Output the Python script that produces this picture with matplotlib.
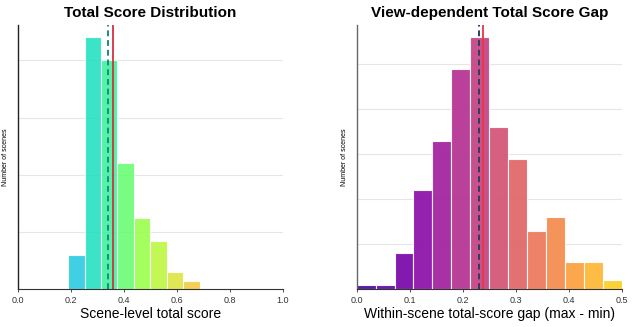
import numpy as np
import matplotlib.pyplot as plt

plt.rcParams['font.family'] = ['Liberation Sans', 'DejaVu Sans']

# Left panel: scene-level total score histogram
score_start = 0.19
score_width = 0.062
score_counts = [12, 88, 80, 44, 25, 17, 6, 3]
score_median = 0.339
score_mean = 0.359

# Right panel: within-scene total-score gap histogram
gap_start = 0.0
gap_width = 0.5 / 14
gap_counts = [1, 1, 8, 22, 33, 49, 56, 36, 29, 13, 16, 6, 6, 2]
gap_median = 0.231
gap_mean = 0.2385

fig = plt.figure(figsize=(6.34, 3.27), dpi=100)
ax1 = fig.add_axes([0.028, 0.115, 0.418, 0.809])
ax2 = fig.add_axes([0.5626, 0.115, 0.418, 0.809])


def style(ax, ymax, step, spine_col):
    ax.set_ylim(0, ymax)
    ax.set_yticks(np.arange(step, ymax, step))
    ax.set_yticklabels([])
    ax.tick_params(axis='y', length=0)
    ax.tick_params(axis='x', labelsize=6.5, length=2.5, width=0.6, pad=2,
                   colors='#333333')
    ax.grid(axis='y', color='#e6e6e6', linewidth=0.8)
    ax.set_axisbelow(True)
    for s in ['top', 'right']:
        ax.spines[s].set_visible(False)
    ax.spines['left'].set_color(spine_col)
    ax.spines['bottom'].set_color('#333333')
    ax.spines['left'].set_linewidth(1.0)
    ax.spines['bottom'].set_linewidth(0.8)
    ax.set_ylabel('Number of scenes', fontsize=5, labelpad=3)


# left
x1 = score_start + score_width * np.arange(len(score_counts))
c1 = plt.cm.turbo(np.linspace(0.27, 0.64, len(score_counts)))
ax1.bar(x1, score_counts, width=score_width, align='edge', color=c1,
        alpha=0.85, edgecolor='white', linewidth=0.8)
ax1.axvline(score_median, color='#1f8a80', linestyle='--', linewidth=1.4,
            dashes=(3, 2))
ax1.axvline(score_mean, color='#d63040', linewidth=1.3)
ax1.set_xlim(0, 1)
ax1.set_xticks(np.arange(0, 1.01, 0.2))
style(ax1, 92.4, 20, '#222222')
ax1.set_xlabel('Scene-level total score', fontsize=10, labelpad=2)
ax1.set_title('Total Score Distribution', fontsize=11, fontweight='bold', pad=6)

# right
x2 = gap_start + gap_width * np.arange(len(gap_counts))
c2 = plt.cm.plasma(np.linspace(0.1, 0.9, len(gap_counts)))
ax2.bar(x2, gap_counts, width=gap_width, align='edge', color=c2,
        alpha=0.9, edgecolor='white', linewidth=0.8)
ax2.axvline(gap_median, color='#2c3e60', linestyle='--', linewidth=1.4,
            dashes=(3, 2))
ax2.axvline(gap_mean, color='#e8364a', linewidth=1.3)
ax2.set_xlim(0, 0.5)
ax2.set_xticks(np.arange(0, 0.51, 0.1))
style(ax2, 58.8, 10, '#666666')
ax2.set_xlabel('Within-scene total-score gap (max - min)', fontsize=10, labelpad=2)
ax2.set_title('View-dependent Total Score Gap', fontsize=11, fontweight='bold', pad=6)

fig.savefig('out.png', dpi=100)
